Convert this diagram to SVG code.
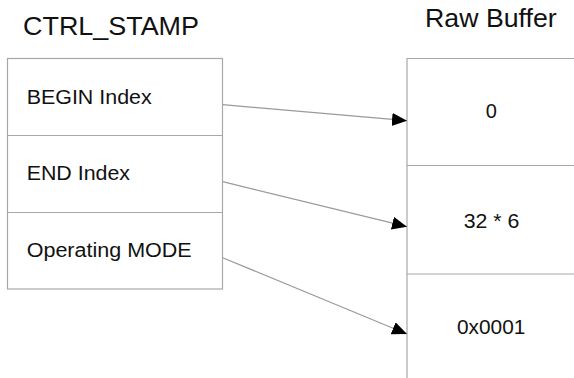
<svg xmlns="http://www.w3.org/2000/svg" width="574" height="378" viewBox="0 0 574 378">
<style>
.t{font-family:"Liberation Sans",Arial,sans-serif;fill:#111}
.h{font-size:25px}
.l{font-size:20px}
.box{fill:none;stroke:#a8a8a8;stroke-width:1.2}
.c{fill:none;stroke:#9a9a9a;stroke-width:1.2}
</style>
<defs>
<marker id="ah" markerUnits="userSpaceOnUse" markerWidth="16" markerHeight="14" refX="15" refY="6.5" orient="auto">
<path d="M0,0 L15,6.5 L0,13 Z" fill="#000"/>
</marker>
</defs>
<rect width="574" height="378" fill="#fff"/>
<g id="ctrl_stamp">
<text class="t h" x="23" y="35" textLength="176" lengthAdjust="spacingAndGlyphs">CTRL_STAMP</text>
<rect class="box" x="7.5" y="58.5" width="215" height="230.5"/>
<line class="box" x1="7.5" y1="135.5" x2="222.5" y2="135.5"/>
<line class="box" x1="7.5" y1="212.5" x2="222.5" y2="212.5"/>
</g>
<g id="begin_index"><text class="t l" x="26.7" y="104.3" textLength="125" lengthAdjust="spacingAndGlyphs">BEGIN Index</text></g>
<g id="end_index"><text class="t l" x="26.7" y="180.3" textLength="103.3" lengthAdjust="spacingAndGlyphs">END Index</text></g>
<g id="operating_mode"><text class="t l" x="26.7" y="256.7" textLength="165" lengthAdjust="spacingAndGlyphs">Operating MODE</text></g>
<g id="raw_buffer">
<text class="t h" x="425" y="27" textLength="131.7" lengthAdjust="spacingAndGlyphs">Raw Buffer</text>
<path class="box" d="M574,58.5 H407 V378"/>
<line class="box" x1="407" y1="165.5" x2="574" y2="165.5"/>
<line class="box" x1="407" y1="274" x2="574" y2="274"/>
</g>
<g id="buf_0"><text class="t l" x="491.3" y="117.7" text-anchor="middle">0</text></g>
<g id="buf_32x6"><text class="t l" x="491.5" y="227.7" text-anchor="middle" textLength="55.6" lengthAdjust="spacingAndGlyphs">32 * 6</text></g>
<g id="buf_0x0001"><text class="t l" x="491.2" y="334" text-anchor="middle" textLength="68.3" lengthAdjust="spacingAndGlyphs">0x0001</text></g>
<g id="connectors">
<line class="c" x1="222.7" y1="104.7" x2="407" y2="120.7" marker-end="url(#ah)"/>
<line class="c" x1="222.7" y1="181.7" x2="407" y2="226.7" marker-end="url(#ah)"/>
<line class="c" x1="222.7" y1="257.7" x2="407" y2="334" marker-end="url(#ah)"/>
</g>
</svg>
